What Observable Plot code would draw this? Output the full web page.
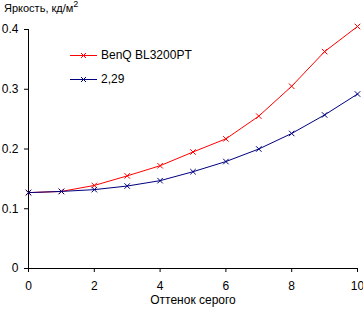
<!DOCTYPE html>
<html>
<head>
<meta charset="utf-8">
<script src="https://cdn.jsdelivr.net/npm/d3@7"></script>
<script src="https://cdn.jsdelivr.net/npm/@observablehq/plot@0.6"></script>
<style>
  html, body { margin: 0; padding: 0; background: #fff; }
  #wrap { position: relative; width: 363px; height: 311px; font-family: "Liberation Sans", Arial, sans-serif; }
  #title { position: absolute; left: 4px; top: 1px; font-size: 11px; line-height: 14px; color: #000; }
  #title sup { font-size: 9px; vertical-align: 0; position: relative; top: -5px; }
  #legend { position: absolute; left: 70px; top: 43px; font-size: 12px; color: #000; }
  .item { display: flex; align-items: center; height: 24px; }
  .item svg { margin-right: 4px; }
</style>
</head>
<body>
<div id="wrap">
  <div id="title">Яркость, кд/м<sup>2</sup></div>
  <div id="legend"></div>
</div>
<script>
// Gray level steps along the x axis
const grayLevels = [0, 1, 2, 3, 4, 5, 6, 7, 8, 9, 10];
// Measured luminance of the monitor, cd/m²
const benqValues = [0.127, 0.129, 0.139, 0.155, 0.172, 0.195, 0.217, 0.255, 0.305, 0.363, 0.405];
// Reference gamma 2.29 curve
const gammaValues = [0.127, 0.129, 0.132, 0.138, 0.147, 0.162, 0.179, 0.200, 0.226, 0.257, 0.292];

const seriesNames = ["BenQ BL3200PT", "2,29"];
const seriesColors = ["#ff0000", "#000080"];
const yTicks = [0, 0.1, 0.2, 0.3, 0.4];
const xTicks = [0, 2, 4, 6, 8, 10];

const rows = [
  ...grayLevels.map((x, i) => ({x, y: benqValues[i], s: seriesNames[0]})),
  ...grayLevels.map((x, i) => ({x, y: gammaValues[i], s: seriesNames[1]}))
];

const chart = Plot.plot({
  width: 363,
  height: 311,
  marginLeft: 28,
  marginRight: 6,
  marginTop: 29,
  marginBottom: 43,
  style: {fontFamily: "'Liberation Sans', Arial, sans-serif", fontSize: "12px", color: "#000", background: "transparent"},
  x: {domain: [0, 10]},
  y: {domain: [0, 0.4]},
  color: {domain: seriesNames, range: seriesColors},
  marks: [
    Plot.axisY({ticks: yTicks, tickSize: 4, tickPadding: 6, label: null,
      tickFormat: d => d === 0 ? "0" : d3.format(".1f")(d)}),
    Plot.axisX({ticks: xTicks, tickSize: 4, tickPadding: 9, label: "Оттенок серого",
      labelAnchor: "center", labelArrow: "none", labelOffset: 35}),
    Plot.ruleX([0], {stroke: "#000"}),
    Plot.ruleY([0], {stroke: "#000"}),
    Plot.line(rows, {x: "x", y: "y", z: "s", stroke: "s", strokeWidth: 1}),
    Plot.dot(rows, {x: "x", y: "y", stroke: "s", symbol: "times", r: 2.6, strokeWidth: 1})
  ]
});
document.getElementById("wrap").prepend(chart);
chart.style.position = "absolute";
chart.style.left = "0";
chart.style.top = "0";

// Legend entries: short line with a cross marker, then the series name
const legend = d3.select("#legend");
seriesNames.forEach((name, i) => {
  const item = legend.append("div").attr("class", "item");
  const svg = item.append("svg").attr("width", 27).attr("height", 9);
  svg.append("line").attr("x1", 0).attr("x2", 27).attr("y1", 4.5).attr("y2", 4.5)
    .attr("stroke", seriesColors[i]).attr("stroke-width", 1);
  svg.append("path").attr("d", "M11,2L16,7M16,2L11,7")
    .attr("stroke", seriesColors[i]).attr("stroke-width", 1);
  item.append("span").text(name);
});
</script>
</body>
</html>
